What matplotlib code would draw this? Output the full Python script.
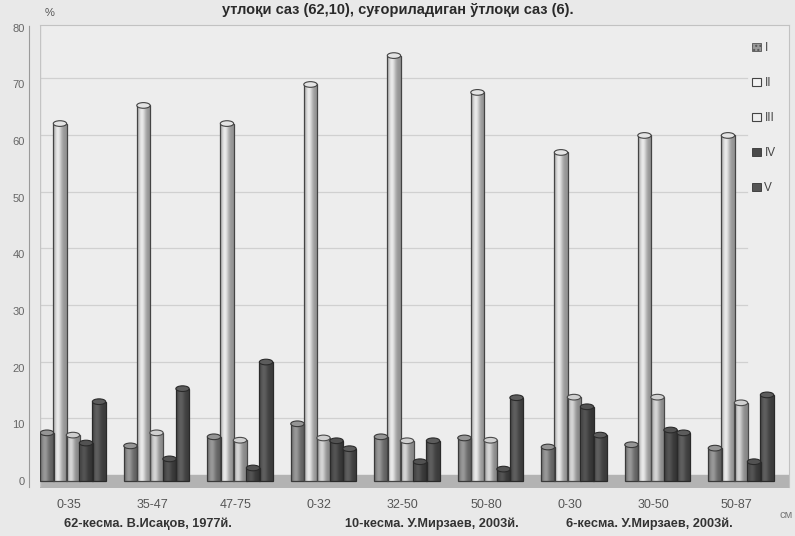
import numpy as np
import matplotlib

matplotlib.use("Agg")
import matplotlib.pyplot as plt
from matplotlib.patches import Ellipse, Patch
from matplotlib.transforms import ScaledTranslation, blended_transform_factory

plt.rcParams["font.family"] = ["Liberation Sans", "DejaVu Sans"]

# depth intervals, cm
categories = ["0-35", "35-47", "47-75", "0-32", "32-50", "50-80", "0-30", "30-50", "50-87"]
series_names = ["I", "II", "III", "IV", "V"]
# fraction content, %
vals_I = [8.5, 6.2, 7.8, 10.1, 7.8, 7.6, 6.0, 6.4, 5.8]
vals_II = [63.1, 66.3, 63.1, 70.0, 75.1, 68.6, 58.0, 61.0, 61.0]
vals_III = [8.1, 8.5, 7.2, 7.6, 7.1, 7.2, 14.8, 14.8, 13.8]
vals_IV = [6.7, 3.9, 2.3, 7.1, 3.4, 2.1, 13.1, 9.0, 3.4]
vals_V = [14.0, 16.3, 21.0, 5.7, 7.1, 14.7, 8.1, 8.5, 15.2]
profiles = ["62-кесма. В.Исақов, 1977й.", "10-кесма. У.Мирзаев, 2003й.", "6-кесма. У.Мирзаев, 2003й."]
title = "утлоқи саз (62,10), суғориладиган ўтлоқи саз (6)."

colors = ["#8e8e8e", "#d9d9d9", "#c6c6c6", "#4e4e4e", "#585858"]
edges = ["#3a3a3a", "#444444", "#4a4a4a", "#2a2a2a", "#2a2a2a"]

W, H = 795, 536
fig = plt.figure(figsize=(W / 100, H / 100), dpi=100, facecolor="#e9e9e9")
ax = fig.add_axes([40 / W, (H - 487) / H, (789 - 40) / W, (487 - 25) / H])
ax.set_facecolor("#ededed")

xmin, xmax = -0.395, 8.575
ymin, ymax = -1.06, 80.5

x = np.arange(len(categories))
bar_w = 0.16
step = 0.156

# cylinder shading across the bar width
t = np.linspace(0, 1, 48)
prof = 0.68 + 0.4 * np.exp(-((t - 0.35) / 0.28) ** 2)

# floor of the 3D box
ax.fill_between([xmin, xmax], ymin, 1.06, color="#b3b3b3", zorder=1)

# back-wall gridlines, raised a little for depth
lift = ax.transData + ScaledTranslation(0, 0.06, fig.dpi_scale_trans)
for v in range(10, 81, 10):
    ax.plot([xmin, 8.07], [v, v], color="#d0d0d0", lw=0.9, transform=lift, zorder=1)

all_vals = [vals_I, vals_II, vals_III, vals_IV, vals_V]
for k, vals in enumerate(all_vals):
    xs = x + (k - 2) * step
    base = np.array(matplotlib.colors.to_rgb(colors[k]))
    grad = np.clip(prof[None, :, None] * base[None, None, :], 0, 1)
    bars = ax.bar(xs, vals, width=bar_w, facecolor="none",
                  edgecolor=edges[k], linewidth=0.9, zorder=4)
    for rect, v in zip(bars, vals):
        x0 = rect.get_x()
        im = ax.imshow(grad, extent=(x0, x0 + bar_w, 0, v), aspect="auto",
                       interpolation="bilinear", zorder=3)
        im.set_clip_path(rect)
        top = np.clip(base * 1.05, 0, 1)
        ax.add_patch(Ellipse((x0 + bar_w / 2, v), bar_w, 1.0, facecolor=top,
                             edgecolor=edges[k], lw=0.8, zorder=5))

ax.set_xlim(xmin, xmax)
ax.set_ylim(ymin, ymax)

for side in ("top", "right"):
    ax.spines[side].set_color("#c2c2c2")
ax.spines["bottom"].set_visible(False)
ax.spines["left"].set_color("#9a9a9a")
ax.spines["left"].set_linestyle((0, (1, 1)))
ax.spines["left"].set_position(("outward", 8))
ax.axvline(xmin, color="#c4c4c4", lw=1, zorder=1)

ax.set_yticks(range(0, 81, 10))
ax.tick_params(axis="y", length=0, pad=3, labelsize=8, labelcolor="#666666")
ax.set_xticks(x - 0.05, categories)
ax.tick_params(axis="x", length=0, pad=9, labelsize=9, labelcolor="#555555")

# profile captions under each group of three
blend = blended_transform_factory(ax.transData, fig.transFigure)
for xc, txt in zip([0.90, 4.30, 6.90], profiles):
    ax.text(xc, 1 - 524 / H, txt, transform=blend, ha="center", va="center",
            fontsize=9.2, fontweight="bold", color="#333333")

fig.text(398 / W, 1 - 10 / H, title, ha="center", va="center",
         fontsize=10.5, fontweight="bold", color="#2a2a2a")
fig.text(50 / W, 1 - 13 / H, "%", ha="center", va="center", fontsize=8, color="#555555")
fig.text(786 / W, 1 - 515 / H, "см", ha="center", va="center", fontsize=8, color="#777777")

handles = [
    Patch(facecolor="#9a9a9a", edgecolor="#555555", hatch="....", lw=0.6),
    Patch(facecolor="#f4f4f4", edgecolor="#444444", lw=0.8),
    Patch(facecolor="#eeeeee", edgecolor="#444444", lw=0.8),
    Patch(facecolor="#4a4a4a", edgecolor="#333333", lw=0.6),
    Patch(facecolor="#555555", edgecolor="#333333", lw=0.6),
]
fig.legend(handles, series_names, loc="upper left",
           bbox_to_anchor=(752 / W, 1 - 42 / H), frameon=False,
           fontsize=8.5, labelcolor="#444444", handlelength=0.75,
           handleheight=0.75, handletextpad=0.3, labelspacing=1.95,
           borderpad=0, borderaxespad=0)

fig.savefig("out.png", dpi=100, facecolor=fig.get_facecolor())
